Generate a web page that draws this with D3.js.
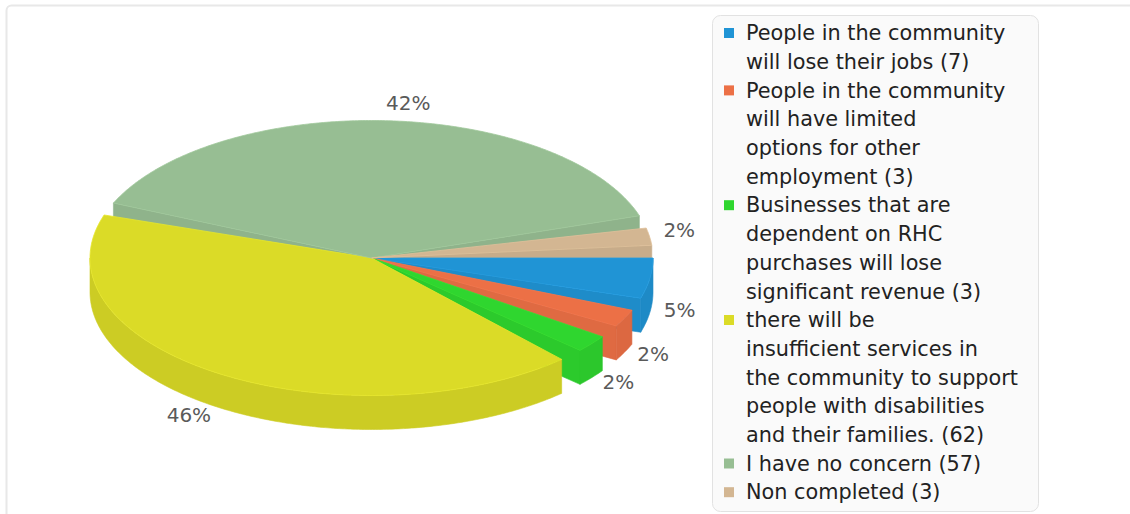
<!DOCTYPE html>
<html>
<head>
<meta charset="utf-8">
<script src="https://cdn.jsdelivr.net/npm/d3@7"></script>
<style>
  body { margin: 0; background: #fff; }
  svg { display: block; font-family: "DejaVu Sans", Verdana, sans-serif; }
</style>
</head>
<body>
<svg id="chart" width="1130" height="514"></svg>
<script>
// ---- data ----
const categories = [
  "People in the community will lose their jobs",
  "People in the community will have limited options for other employment",
  "Businesses that are dependent on RHC purchases will lose significant revenue",
  "there will be insufficient services in the community to support people with disabilities and their families.",
  "I have no concern",
  "Non completed"
];
const counts = [7, 3, 3, 62, 57, 3];
const legendLines = [
  ["People in the community", "will lose their jobs (7)"],
  ["People in the community", "will have limited", "options for other", "employment (3)"],
  ["Businesses that are", "dependent on RHC", "purchases will lose", "significant revenue (3)"],
  ["there will be", "insufficient services in", "the community to support", "people with disabilities", "and their families. (62)"],
  ["I have no concern (57)"],
  ["Non completed (3)"]
];
const colors = ["#2094d5", "#ec7046", "#2fd62f", "#dbdb27", "#97be93", "#d3b692"];

// ---- layout ----
const svg = d3.select("#chart");
const cx = 371.5, cy = 258, rx = 281.5, ry = 137.5, depth = 34;
const gap = 5.3 * Math.PI / 180;   // angular gap between neighbouring slices

// outer frame
svg.append("rect").attr("x", 6.5).attr("y", 5.5).attr("width", 1140).attr("height", 520)
  .attr("rx", 5).attr("fill", "#fff").attr("stroke", "#e8e8e8").attr("stroke-width", 2);

const total = d3.sum(counts);
// pie angles re-based so that 0 points to 3 o'clock, growing clockwise on screen
const start = Math.PI / 2 - gap / 2;
const arcs = d3.pie().sort(null).value(d => d).padAngle(gap)
  .startAngle(start).endAngle(start + 2 * Math.PI)(counts)
  .map((a, i) => ({
    ...a, i,
    t0: a.startAngle + a.padAngle / 2 - Math.PI / 2,
    t1: a.endAngle - a.padAngle / 2 - Math.PI / 2
  }));
arcs.forEach(a => { a.tm = (a.t0 + a.t1) / 2; });

// unit ellipse -> screen
const xs = d3.scaleLinear().domain([-1, 1]).range([cx - rx, cx + rx]);
const ys = d3.scaleLinear().domain([-1, 1]).range([cy - ry, cy + ry]);

function P(t, r, h) {
  return [xs(r * Math.cos(t)), ys(r * Math.sin(t)) + h];
}
function arcPts(t0, t1, h) {
  const n = Math.max(2, Math.ceil(Math.abs(t1 - t0) / 0.01));
  return d3.range(n + 1).map(k => P(t0 + (t1 - t0) * k / n, 1, h));
}
const line = d3.line();

// side faces, painted back to front
const faces = [];
arcs.forEach(a => {
  const wall = d3.color(colors[a.i]).darker(0.2).formatHex();
  const cut = d3.color(colors[a.i]).darker(0.16).formatHex();
  // outer wall: the part of the rim that faces the viewer (0..PI)
  for (let k = -1; k <= 1; k++) {
    const lo = Math.max(a.t0, k * 2 * Math.PI), hi = Math.min(a.t1, k * 2 * Math.PI + Math.PI);
    if (hi > lo) {
      const top = arcPts(lo, hi, 0), bot = arcPts(hi, lo, depth);
      faces.push({ d: line(top.concat(bot)) + "Z", z: Math.sin((lo + hi) / 2), fill: wall });
    }
  }
  // radial cut faces that turn towards the viewer
  const addCut = t => {
    const pts = [P(t, 0, 0), P(t, 1, 0), P(t, 1, depth), P(t, 0, depth)];
    faces.push({ d: line(pts) + "Z", z: 0.5 * Math.sin(t), fill: cut });
  };
  if (Math.cos(a.t1) > 0) addCut(a.t1);
  if (Math.cos(a.t0) < 0) addCut(a.t0);
});
faces.sort((p, q) => p.z - q.z);

const pieG = svg.append("g");
pieG.selectAll("path.side").data(faces).join("path")
  .attr("class", "side").attr("d", f => f.d).attr("fill", f => f.fill)
  .attr("stroke", f => f.fill).attr("stroke-width", 0.6).attr("stroke-linejoin", "round");

pieG.selectAll("path.top").data(arcs).join("path")
  .attr("class", "top")
  .attr("d", a => line([P(0, 0, 0)].concat(arcPts(a.t0, a.t1, 0))) + "Z")
  .attr("fill", a => colors[a.i])
  .attr("stroke", a => d3.color(colors[a.i]).brighter(0.15).formatHex())
  .attr("stroke-width", 0.8).attr("stroke-linejoin", "round");

// ---- percentage labels ----
const fmt = d3.format(".0%");
const dist = 14;
const labels = arcs.map(a => {
  const c = Math.cos(a.tm), s = Math.sin(a.tm);
  return {
    text: fmt(a.value / total),
    x: cx + (rx + dist) * c,
    y: cy + (ry + dist) * s + (s > 0 ? depth : 0) - 4,
    anchor: c >= 0 ? "start" : "end"
  };
});
svg.append("g").selectAll("text").data(labels).join("text")
  .attr("x", l => l.x).attr("y", l => l.y).attr("dy", "0.35em")
  .attr("text-anchor", l => l.anchor)
  .attr("font-size", 20).attr("fill", "#5a5a5a")
  .text(l => l.text);

// ---- legend ----
const lg = svg.append("g");
lg.append("rect").attr("x", 712.5).attr("y", 15.5).attr("width", 326).attr("height", 496)
  .attr("rx", 8).attr("fill", "#fafafa").attr("stroke", "#e2e2e2");
const lineH = 28.7, firstY = 33;
let row = 0;
legendLines.forEach((lines, i) => {
  const y0 = firstY + row * lineH;
  lg.append("rect").attr("x", 724).attr("y", y0 - 5).attr("width", 10).attr("height", 10)
    .attr("fill", colors[i]);
  lines.forEach((t, j) => {
    lg.append("text").attr("x", 746).attr("y", y0 + j * lineH).attr("dy", "0.35em")
      .attr("font-size", 20.8).attr("fill", "#222").text(t);
  });
  row += lines.length;
});
</script>
</body>
</html>
